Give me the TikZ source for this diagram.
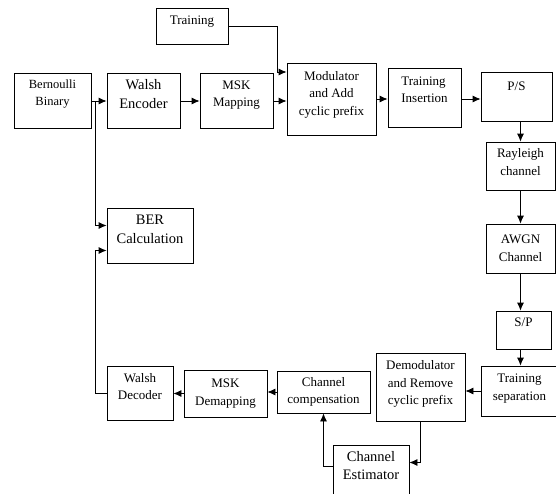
\documentclass[tikz,border=0pt]{standalone}
\usepackage{fontspec}
\setmainfont{Liberation Serif}
\usetikzlibrary{arrows.meta}
\tikzset{
  blk/.style={draw, line width=0.8pt, align=center, inner sep=0pt,
    font=\fontsize{13}{17.5}\selectfont},
  big/.style={font=\fontsize{14.5}{18.5}\selectfont},
  lift/.style={text depth=#1},
}
\begin{document}
\begin{tikzpicture}[x=1pt, y=-1pt, >={Latex[length=8pt,width=7pt]}, line width=0.8pt]
  \useasboundingbox (0,0) rectangle (556,493);
  \draw
    (192,26) node[blk, lift=12pt, minimum width=72pt, minimum height=36pt] (train){Training}
    (52.5,101) node[blk, lift=16pt, minimum width=77pt, minimum height=55pt,
      font=\fontsize{12.5}{17}\selectfont] (bern){Bernoulli\\Binary}
    (143.5,101) node[blk, big, lift=14pt, minimum width=73pt, minimum height=55pt] (wenc){Walsh\\Encoder}
    (236.5,101) node[blk, lift=15pt, minimum width=73pt, minimum height=55pt] (mskmap){MSK\\Mapping}
    (331.5,99) node[blk, lift=12pt, minimum width=89pt, minimum height=72pt] (mod){Modulator\\and Add\\cyclic prefix}
    (424.5,97.5) node[blk, align=left, lift=16pt, minimum width=73pt, minimum height=59pt] (tins){Training\\Insertion}
    (516.5,96.5) node[blk, lift=21pt, minimum width=71pt, minimum height=49pt] (ps){P/S}
    (520.5,166) node[blk, lift=8pt, minimum width=69pt, minimum height=48pt] (ray){Rayleigh\\channel}
    (520.5,248.5) node[blk, minimum width=69pt, minimum height=49pt] (awgn){AWGN\\Channel}
    (523.5,330) node[blk, lift=15pt, minimum width=55pt, minimum height=38pt] (sp){S/P}
    (519.5,391) node[blk, lift=8pt, minimum width=77pt, minimum height=50pt] (tsep){Training\\separation}
    (420.5,387) node[blk, lift=9pt, minimum width=89pt, minimum height=68pt] (demod){Demodulator\\and Remove\\cyclic prefix}
    (323.5,392) node[blk, minimum width=93pt, minimum height=42pt] (ccomp){Channel\\compensation}
    (225.5,393.5) node[blk, minimum width=83pt, minimum height=47pt] (mskdem){MSK\\Demapping}
    (140,393) node[blk, lift=13pt, minimum width=66pt, minimum height=54pt] (wdec){Walsh\\Decoder}
    (150,235.5) node[blk, big, lift=13pt, minimum width=86pt, minimum height=55pt] (ber){BER\\Calculation}
    (371,472.5) node[blk, big, lift=14pt, minimum width=76pt, minimum height=55pt] (cest){Channel\\Estimator};
  \coordinate (tap) at (95,101);
  \coordinate (tbend) at (277,72);
  \begin{scope}[->]
    \draw (bern) to (wenc);
    \draw (wenc) to (mskmap);
    \draw (mskmap.east) to (mskmap.east -| mod.west);
    \draw (train.east) -| (tbend) -- (tbend -| mod.west);
    \draw (mod.east) to (mod.east -| tins.west);
    \draw (mod.east -| tins.east) to (mod.east -| ps.west);
    \draw (ps.south -| ray.north) to (ray.north);
    \draw (ray) to (awgn);
    \draw (awgn.south) to (awgn.south |- sp.north);
    \draw (sp.south -| awgn.south) to (awgn.south |- tsep.north);
    \draw (tsep.west) to (tsep.west -| demod.east);
    \draw (demod.south) |- ([yshift=10pt]cest.east);
    \draw ([yshift=6pt]cest.west) -| (ccomp.south);
    \draw (ccomp.west) to (ccomp.west -| mskdem.east);
    \draw (mskdem.west) to (mskdem.west -| wdec.east);
    \draw (tap) |- ([yshift=10pt]ber.west);
    \draw (wdec.west) -- ++(-11,0) |- ([yshift=-15pt]ber.west);
  \end{scope}
\end{tikzpicture}
\end{document}
